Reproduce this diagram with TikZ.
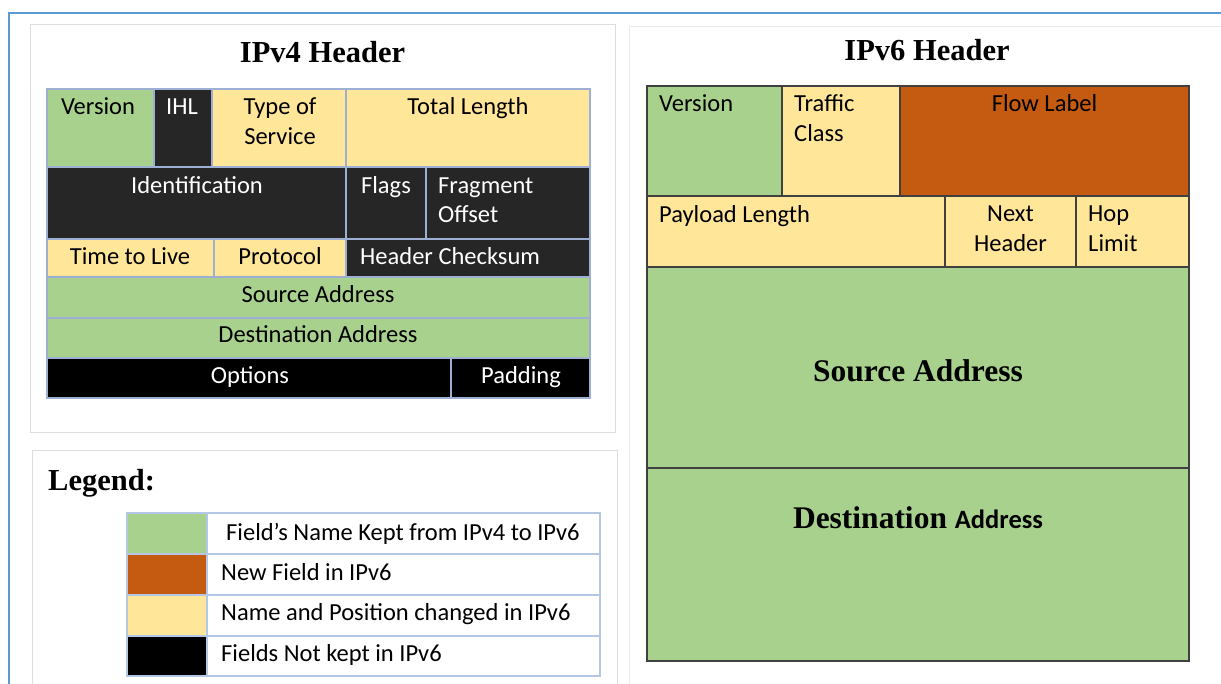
\documentclass[tikz,border=0pt]{standalone}
\usepackage{fontspec}
\setmainfont{Liberation Serif}
\newfontfamily\calib{Carlito}

\definecolor{keptgreen}{HTML}{A9D18E}
\definecolor{neworange}{HTML}{C55A11}
\definecolor{changedyellow}{HTML}{FFE699}
\definecolor{droppeddark}{HTML}{262626}
\definecolor{vfourline}{HTML}{9DB0D4}
\definecolor{legendline}{HTML}{B4C7E7}
\definecolor{vsixline}{HTML}{404040}
\definecolor{cardline}{HTML}{DEDEDE}
\definecolor{frameblue}{HTML}{5B9BD5}

% a rectangular field: name, x1, y1, x2, y2, style
\newcommand\fieldcell[6]{%
  \node[#6, anchor=north west, minimum width={(#4-#2)*1pt},
        minimum height={(#5-#3)*1pt}] (#1) at (#2,#3) {};}

\begin{document}
\begin{tikzpicture}[x=1pt, y=-1pt,
  vfour/.style={draw=vfourline, line width=2pt, inner sep=0pt, outer sep=0pt},
  vsix/.style={draw=vsixline, line width=1.4pt, inner sep=0pt, outer sep=0pt},
  legcell/.style={draw=legendline, line width=2pt, inner sep=0pt, outer sep=0pt},
  card/.style={draw=cardline, line width=1pt},
  fieldtxt/.style={font=\calib\fontsize{24.5}{29.5}\selectfont, inner sep=0pt,
                   execute at begin node=\strut},
  toptxt/.style={fieldtxt, align=center, anchor=north},
  leftxt/.style={fieldtxt, align=left, anchor=north west},
  basetxt/.style={fieldtxt, anchor=base},
  basewest/.style={fieldtxt, anchor=base west},
  lighttxt/.style={text=white},
  titletxt/.style={font=\bfseries\fontsize{30.5}{36}\selectfont, inner sep=0pt, anchor=base},
  bigtxt/.style={font=\bfseries\fontsize{31.5}{38}\selectfont, inner sep=0pt, anchor=base}
]
\useasboundingbox (0,0) rectangle (1221,684);
\fill[white] (0,0) rectangle (1221,684);

% page frame and cards
\draw[frameblue, line width=2.5pt] (9,690) -- (9,13) -- (1230,13);
\draw[card] (30,25) rectangle (615,433);
\draw[card] (32,450) rectangle (617,700);
\draw[draw=cardline!60, line width=1pt] (629,27) rectangle (1235,700);

% ---------------- IPv4 header ----------------
\node[titletxt] (vfourtitle) at (322.5,62.5) {IPv4 Header};

\fieldcell{vfver}{47}{89}{154}{167}{vfour, fill=keptgreen}
\fieldcell{vfihl}{154}{89}{212}{167}{vfour, fill=droppeddark}
\fieldcell{vftos}{212}{89}{346}{167}{vfour, fill=changedyellow}
\fieldcell{vflen}{346}{89}{590}{167}{vfour, fill=changedyellow}
\fieldcell{vfid}{47}{167}{346}{239}{vfour, fill=droppeddark}
\fieldcell{vfflg}{346}{167}{426}{239}{vfour, fill=droppeddark}
\fieldcell{vffrag}{426}{167}{590}{239}{vfour, fill=droppeddark}
\fieldcell{vfttl}{47}{239}{214}{277}{vfour, fill=changedyellow}
\fieldcell{vfpro}{214}{239}{346}{277}{vfour, fill=changedyellow}
\fieldcell{vfchk}{346}{239}{590}{277}{vfour, fill=droppeddark}
\fieldcell{vfsrc}{47}{277}{590}{318}{vfour, fill=keptgreen}
\fieldcell{vfdst}{47}{318}{590}{358}{vfour, fill=keptgreen}
\fieldcell{vfopt}{47}{358}{451}{398}{vfour, fill=black}
\fieldcell{vfpad}{451}{358}{590}{398}{vfour, fill=black}

\node[toptxt] (tvfver) at (98,93.4) {Version};
\node[toptxt, lighttxt] (tvfihl) at (182,93.4) {IHL};
\node[toptxt] (tvftos) at (280,98) {Type of\\Service};
\node[toptxt] (tvflen) at (468,93.4) {Total Length};
\node[toptxt, lighttxt] (tvfid) at (197,172.9) {Identification};
\node[toptxt, lighttxt] (tvfflg) at (386,172.9) {Flags};
\node[leftxt, lighttxt] (tvffrag) at (438,177.5) {Fragment\\Offset};
\node[basetxt] (tvfttl) at (130,264.5) {Time to Live};
\node[basetxt] (tvfpro) at (280,264.5) {Protocol};
\node[basewest, lighttxt] (tvfchk) at (360,264.5) {Header Checksum};
\node[basetxt] (tvfsrc) at (318,302.5) {Source Address};
\node[basetxt] (tvfdst) at (318,342.5) {Destination Address};
\node[basetxt, lighttxt] (tvfopt) at (250,383.5) {Options};
\node[basetxt, lighttxt] (tvfpad) at (521,383.5) {Padding};

% ---------------- Legend ----------------
\node[titletxt, anchor=base west] (legtitle) at (48,490) {Legend:};

\fieldcell{lgas}{127}{513}{207}{554}{legcell, fill=keptgreen}
\fieldcell{lgat}{207}{513}{600}{554}{legcell, fill=white}
\fieldcell{lgbs}{127}{554}{207}{595}{legcell, fill=neworange}
\fieldcell{lgbt}{207}{554}{600}{595}{legcell, fill=white}
\fieldcell{lgcs}{127}{595}{207}{636}{legcell, fill=changedyellow}
\fieldcell{lgct}{207}{595}{600}{636}{legcell, fill=white}
\fieldcell{lgds}{127}{636}{207}{676}{legcell, fill=black}
\fieldcell{lgdt}{207}{636}{600}{676}{legcell, fill=white}

\node[basewest] (tlga) at (226,540) {Field’s Name Kept from IPv4 to IPv6};
\node[basewest] (tlgb) at (221,580.5) {New Field in IPv6};
\node[basewest] (tlgc) at (221,620.5) {Name and Position changed in IPv6};
\node[basewest] (tlgd) at (221,661) {Fields Not kept in IPv6};

% ---------------- IPv6 header ----------------
\node[titletxt] (vsixtitle) at (927,60.5) {IPv6 Header};

\fieldcell{vsver}{647}{86}{782}{196}{vsix, fill=keptgreen}
\fieldcell{vstc}{782}{86}{900}{196}{vsix, fill=changedyellow}
\fieldcell{vsfl}{900}{86}{1189}{196}{vsix, fill=neworange}
\fieldcell{vspl}{647}{196}{945}{267}{vsix, fill=changedyellow}
\fieldcell{vsnh}{945}{196}{1076}{267}{vsix, fill=changedyellow}
\fieldcell{vshl}{1076}{196}{1189}{267}{vsix, fill=changedyellow}
\fieldcell{vssrc}{647}{267}{1189}{468}{vsix, fill=keptgreen}
\fieldcell{vsdst}{647}{468}{1189}{661}{vsix, fill=keptgreen}

\node[leftxt] (tvsver) at (659,90.5) {Version};
\node[leftxt] (tvstc) at (794,94.5) {Traffic\\Class};
\node[toptxt] (tvsfl) at (1044.5,90.5) {Flow Label};
\node[leftxt] (tvspl) at (659,201.5) {Payload Length};
\node[toptxt] (tvsnh) at (1010.5,206) {Next\\Header};
\node[leftxt] (tvshl) at (1088,206) {Hop\\Limit};
\node[bigtxt] (tvssrc) at (918,382) {Source Address};
\node[bigtxt] (tvsdst) at (918,528) {Destination {\calib\fontsize{26.5}{30}\selectfont Address}};
\end{tikzpicture}
\end{document}
